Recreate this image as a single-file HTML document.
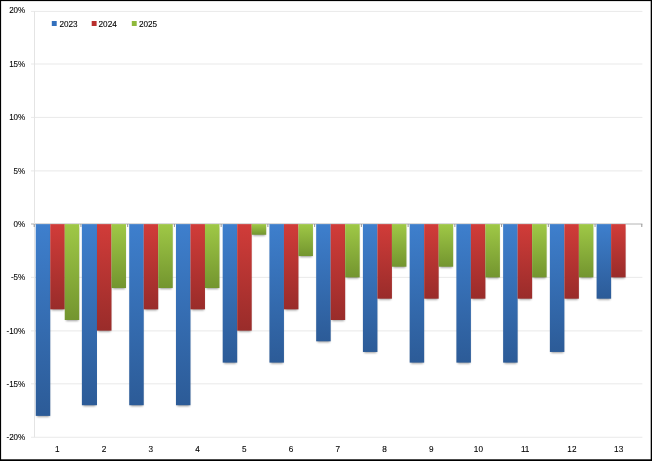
<!DOCTYPE html>
<html lang="en"><head><meta charset="utf-8"><title>Chart</title>
<style>html,body{margin:0;padding:0;background:#fff;}body{width:652px;height:461px;overflow:hidden;}svg{display:block;}text{text-rendering:geometricPrecision;font-family:"Liberation Sans",sans-serif;font-size:8.05px;fill:#000;stroke:#000;stroke-width:0.08px;}</style>
</head><body>
<svg width="652" height="461" viewBox="0 0 652 461">
<defs>
<linearGradient id="gb" x1="0" y1="0" x2="0" y2="1"><stop offset="0" stop-color="#3e7fcd"/><stop offset="1" stop-color="#2c5b97"/></linearGradient>
<linearGradient id="gr" x1="0" y1="0" x2="0" y2="1"><stop offset="0" stop-color="#d13c39"/><stop offset="1" stop-color="#992c2a"/></linearGradient>
<linearGradient id="gg" x1="0" y1="0" x2="0" y2="1"><stop offset="0" stop-color="#9fc846"/><stop offset="1" stop-color="#73952f"/></linearGradient>
<filter id="sh" x="-50%" y="-50%" width="200%" height="200%"><feGaussianBlur stdDeviation="0.9"/></filter>
</defs>
<rect x="0" y="0" width="652" height="461" fill="#fff"/>
<line x1="31" y1="437.25" x2="642.4" y2="437.25" stroke="#e9e9e9" stroke-width="1"/>
<line x1="31" y1="383.85" x2="642.4" y2="383.85" stroke="#e9e9e9" stroke-width="1"/>
<line x1="31" y1="330.90" x2="642.4" y2="330.90" stroke="#e9e9e9" stroke-width="1"/>
<line x1="31" y1="277.35" x2="642.4" y2="277.35" stroke="#e9e9e9" stroke-width="1"/>
<line x1="31" y1="224.00" x2="642.4" y2="224.00" stroke="#b4b4b4" stroke-width="1"/>
<line x1="31" y1="170.90" x2="642.4" y2="170.90" stroke="#e9e9e9" stroke-width="1"/>
<line x1="31" y1="117.40" x2="642.4" y2="117.40" stroke="#e9e9e9" stroke-width="1"/>
<line x1="31" y1="64.00" x2="642.4" y2="64.00" stroke="#e9e9e9" stroke-width="1"/>
<line x1="31" y1="11.40" x2="642.4" y2="11.40" stroke="#e9e9e9" stroke-width="1"/>
<line x1="34.5" y1="11.40" x2="34.5" y2="437.25" stroke="#e4e4e4" stroke-width="1"/>
<line x1="34.20" y1="224.00" x2="34.20" y2="227.00" stroke="#949494" stroke-width="1"/>
<line x1="80.94" y1="224.00" x2="80.94" y2="227.00" stroke="#949494" stroke-width="1"/>
<line x1="127.68" y1="224.00" x2="127.68" y2="227.00" stroke="#949494" stroke-width="1"/>
<line x1="174.42" y1="224.00" x2="174.42" y2="227.00" stroke="#949494" stroke-width="1"/>
<line x1="221.15" y1="224.00" x2="221.15" y2="227.00" stroke="#949494" stroke-width="1"/>
<line x1="267.89" y1="224.00" x2="267.89" y2="227.00" stroke="#949494" stroke-width="1"/>
<line x1="314.63" y1="224.00" x2="314.63" y2="227.00" stroke="#949494" stroke-width="1"/>
<line x1="361.37" y1="224.00" x2="361.37" y2="227.00" stroke="#949494" stroke-width="1"/>
<line x1="408.11" y1="224.00" x2="408.11" y2="227.00" stroke="#949494" stroke-width="1"/>
<line x1="454.85" y1="224.00" x2="454.85" y2="227.00" stroke="#949494" stroke-width="1"/>
<line x1="501.58" y1="224.00" x2="501.58" y2="227.00" stroke="#949494" stroke-width="1"/>
<line x1="548.32" y1="224.00" x2="548.32" y2="227.00" stroke="#949494" stroke-width="1"/>
<line x1="595.06" y1="224.00" x2="595.06" y2="227.00" stroke="#949494" stroke-width="1"/>
<line x1="641.80" y1="224.00" x2="641.80" y2="227.00" stroke="#949494" stroke-width="1"/>
<rect x="37.05" y="227.15" width="12.30" height="189.74" fill="#000" opacity="0.38" filter="url(#sh)"/>
<rect x="35.75" y="224.15" width="14.50" height="191.74" fill="url(#gb)"/>
<rect x="51.55" y="227.15" width="12.30" height="83.19" fill="#000" opacity="0.38" filter="url(#sh)"/>
<rect x="50.25" y="224.15" width="14.50" height="85.19" fill="url(#gr)"/>
<rect x="66.05" y="227.15" width="12.30" height="93.84" fill="#000" opacity="0.38" filter="url(#sh)"/>
<rect x="64.75" y="224.15" width="14.50" height="95.84" fill="url(#gg)"/>
<rect x="83.19" y="227.15" width="12.30" height="179.08" fill="#000" opacity="0.38" filter="url(#sh)"/>
<rect x="81.89" y="224.15" width="15.10" height="181.08" fill="url(#gb)"/>
<rect x="98.29" y="227.15" width="12.30" height="104.50" fill="#000" opacity="0.38" filter="url(#sh)"/>
<rect x="96.99" y="224.15" width="14.50" height="106.50" fill="url(#gr)"/>
<rect x="112.79" y="227.15" width="12.30" height="61.88" fill="#000" opacity="0.38" filter="url(#sh)"/>
<rect x="111.49" y="224.15" width="14.50" height="63.88" fill="url(#gg)"/>
<rect x="130.53" y="227.15" width="12.30" height="179.08" fill="#000" opacity="0.38" filter="url(#sh)"/>
<rect x="129.23" y="224.15" width="14.50" height="181.08" fill="url(#gb)"/>
<rect x="145.03" y="227.15" width="12.30" height="83.19" fill="#000" opacity="0.38" filter="url(#sh)"/>
<rect x="143.73" y="224.15" width="14.50" height="85.19" fill="url(#gr)"/>
<rect x="159.53" y="227.15" width="12.30" height="61.88" fill="#000" opacity="0.38" filter="url(#sh)"/>
<rect x="158.23" y="224.15" width="14.50" height="63.88" fill="url(#gg)"/>
<rect x="177.27" y="227.15" width="12.30" height="179.08" fill="#000" opacity="0.38" filter="url(#sh)"/>
<rect x="175.97" y="224.15" width="14.50" height="181.08" fill="url(#gb)"/>
<rect x="191.77" y="227.15" width="12.30" height="83.19" fill="#000" opacity="0.38" filter="url(#sh)"/>
<rect x="190.47" y="224.15" width="14.50" height="85.19" fill="url(#gr)"/>
<rect x="206.27" y="227.15" width="12.30" height="61.88" fill="#000" opacity="0.38" filter="url(#sh)"/>
<rect x="204.97" y="224.15" width="14.50" height="63.88" fill="url(#gg)"/>
<rect x="224.00" y="227.15" width="12.30" height="136.46" fill="#000" opacity="0.38" filter="url(#sh)"/>
<rect x="222.70" y="224.15" width="14.50" height="138.46" fill="url(#gb)"/>
<rect x="238.50" y="227.15" width="12.30" height="104.50" fill="#000" opacity="0.38" filter="url(#sh)"/>
<rect x="237.20" y="224.15" width="14.50" height="106.50" fill="url(#gr)"/>
<rect x="253.00" y="227.15" width="12.30" height="8.60" fill="#000" opacity="0.38" filter="url(#sh)"/>
<rect x="251.70" y="224.15" width="14.50" height="10.60" fill="url(#gg)"/>
<rect x="270.74" y="227.15" width="12.30" height="136.46" fill="#000" opacity="0.38" filter="url(#sh)"/>
<rect x="269.44" y="224.15" width="14.50" height="138.46" fill="url(#gb)"/>
<rect x="285.24" y="227.15" width="12.30" height="83.19" fill="#000" opacity="0.38" filter="url(#sh)"/>
<rect x="283.94" y="224.15" width="14.50" height="85.19" fill="url(#gr)"/>
<rect x="299.74" y="227.15" width="12.30" height="29.91" fill="#000" opacity="0.38" filter="url(#sh)"/>
<rect x="298.44" y="224.15" width="14.50" height="31.91" fill="url(#gg)"/>
<rect x="317.48" y="227.15" width="12.30" height="115.15" fill="#000" opacity="0.38" filter="url(#sh)"/>
<rect x="316.18" y="224.15" width="14.50" height="117.15" fill="url(#gb)"/>
<rect x="331.98" y="227.15" width="12.30" height="93.84" fill="#000" opacity="0.38" filter="url(#sh)"/>
<rect x="330.68" y="224.15" width="14.50" height="95.84" fill="url(#gr)"/>
<rect x="346.48" y="227.15" width="12.30" height="51.22" fill="#000" opacity="0.38" filter="url(#sh)"/>
<rect x="345.18" y="224.15" width="14.50" height="53.22" fill="url(#gg)"/>
<rect x="364.22" y="227.15" width="12.30" height="125.81" fill="#000" opacity="0.38" filter="url(#sh)"/>
<rect x="362.92" y="224.15" width="14.50" height="127.81" fill="url(#gb)"/>
<rect x="378.72" y="227.15" width="12.30" height="72.53" fill="#000" opacity="0.38" filter="url(#sh)"/>
<rect x="377.42" y="224.15" width="14.50" height="74.53" fill="url(#gr)"/>
<rect x="393.22" y="227.15" width="12.30" height="40.57" fill="#000" opacity="0.38" filter="url(#sh)"/>
<rect x="391.92" y="224.15" width="14.50" height="42.57" fill="url(#gg)"/>
<rect x="410.96" y="227.15" width="12.30" height="136.46" fill="#000" opacity="0.38" filter="url(#sh)"/>
<rect x="409.66" y="224.15" width="14.50" height="138.46" fill="url(#gb)"/>
<rect x="425.46" y="227.15" width="12.30" height="72.53" fill="#000" opacity="0.38" filter="url(#sh)"/>
<rect x="424.16" y="224.15" width="14.50" height="74.53" fill="url(#gr)"/>
<rect x="439.96" y="227.15" width="12.30" height="40.57" fill="#000" opacity="0.38" filter="url(#sh)"/>
<rect x="438.66" y="224.15" width="14.50" height="42.57" fill="url(#gg)"/>
<rect x="457.70" y="227.15" width="12.30" height="136.46" fill="#000" opacity="0.38" filter="url(#sh)"/>
<rect x="456.40" y="224.15" width="14.50" height="138.46" fill="url(#gb)"/>
<rect x="472.20" y="227.15" width="12.30" height="72.53" fill="#000" opacity="0.38" filter="url(#sh)"/>
<rect x="470.90" y="224.15" width="14.50" height="74.53" fill="url(#gr)"/>
<rect x="486.70" y="227.15" width="12.30" height="51.22" fill="#000" opacity="0.38" filter="url(#sh)"/>
<rect x="485.40" y="224.15" width="14.50" height="53.22" fill="url(#gg)"/>
<rect x="504.43" y="227.15" width="12.30" height="136.46" fill="#000" opacity="0.38" filter="url(#sh)"/>
<rect x="503.13" y="224.15" width="14.50" height="138.46" fill="url(#gb)"/>
<rect x="518.93" y="227.15" width="12.30" height="72.53" fill="#000" opacity="0.38" filter="url(#sh)"/>
<rect x="517.63" y="224.15" width="14.50" height="74.53" fill="url(#gr)"/>
<rect x="533.43" y="227.15" width="12.30" height="51.22" fill="#000" opacity="0.38" filter="url(#sh)"/>
<rect x="532.13" y="224.15" width="14.50" height="53.22" fill="url(#gg)"/>
<rect x="551.17" y="227.15" width="12.30" height="125.81" fill="#000" opacity="0.38" filter="url(#sh)"/>
<rect x="549.87" y="224.15" width="14.50" height="127.81" fill="url(#gb)"/>
<rect x="565.67" y="227.15" width="12.30" height="72.53" fill="#000" opacity="0.38" filter="url(#sh)"/>
<rect x="564.37" y="224.15" width="14.50" height="74.53" fill="url(#gr)"/>
<rect x="580.17" y="227.15" width="12.30" height="51.22" fill="#000" opacity="0.38" filter="url(#sh)"/>
<rect x="578.87" y="224.15" width="14.50" height="53.22" fill="url(#gg)"/>
<rect x="597.91" y="227.15" width="12.30" height="72.53" fill="#000" opacity="0.38" filter="url(#sh)"/>
<rect x="596.61" y="224.15" width="14.50" height="74.53" fill="url(#gb)"/>
<rect x="612.41" y="227.15" width="12.30" height="51.22" fill="#000" opacity="0.38" filter="url(#sh)"/>
<rect x="611.11" y="224.15" width="14.50" height="53.22" fill="url(#gr)"/>
<text transform="translate(25.25 439.70) scale(1 1.08)" text-anchor="end">-20%</text>
<text transform="translate(25.25 386.85) scale(1 1.08)" text-anchor="end">-15%</text>
<text transform="translate(25.25 333.90) scale(1 1.08)" text-anchor="end">-10%</text>
<text transform="translate(25.25 280.35) scale(1 1.08)" text-anchor="end">-5%</text>
<text transform="translate(25.25 227.00) scale(1 1.08)" text-anchor="end">0%</text>
<text transform="translate(25.25 173.90) scale(1 1.08)" text-anchor="end">5%</text>
<text transform="translate(25.25 120.40) scale(1 1.08)" text-anchor="end">10%</text>
<text transform="translate(25.25 67.00) scale(1 1.08)" text-anchor="end">15%</text>
<text transform="translate(25.25 13.00) scale(1 1.08)" text-anchor="end">20%</text>
<text transform="translate(57.27 452.1) scale(1.02 1.08)" text-anchor="middle">1</text>
<text transform="translate(104.01 452.1) scale(1.02 1.08)" text-anchor="middle">2</text>
<text transform="translate(150.75 452.1) scale(1.02 1.08)" text-anchor="middle">3</text>
<text transform="translate(197.48 452.1) scale(1.02 1.08)" text-anchor="middle">4</text>
<text transform="translate(244.22 452.1) scale(1.02 1.08)" text-anchor="middle">5</text>
<text transform="translate(290.96 452.1) scale(1.02 1.08)" text-anchor="middle">6</text>
<text transform="translate(337.70 452.1) scale(1.02 1.08)" text-anchor="middle">7</text>
<text transform="translate(384.44 452.1) scale(1.02 1.08)" text-anchor="middle">8</text>
<text transform="translate(431.18 452.1) scale(1.02 1.08)" text-anchor="middle">9</text>
<text transform="translate(478.42 452.1) scale(1.02 1.08)" text-anchor="middle">10</text>
<text transform="translate(525.15 452.1) scale(1.02 1.08)" text-anchor="middle">11</text>
<text transform="translate(571.89 452.1) scale(1.02 1.08)" text-anchor="middle">12</text>
<text transform="translate(618.63 452.1) scale(1.02 1.08)" text-anchor="middle">13</text>
<rect x="51.8" y="21" width="4.9" height="5" fill="#3370bd"/>
<text transform="translate(59.4 26.8) scale(1.02 1.08)">2023</text>
<rect x="91.7" y="21" width="4.9" height="5" fill="#b92f2d"/>
<text transform="translate(98.5 26.8) scale(1.02 1.08)">2024</text>
<rect x="131.8" y="21" width="4.9" height="5" fill="#8fb93c"/>
<text transform="translate(138.9 26.8) scale(1.02 1.08)">2025</text>
<rect x="0" y="0" width="652" height="1.1" fill="#000"/>
<rect x="0" y="0" width="1.1" height="461" fill="#000"/>
<rect x="650.7" y="0" width="1.3" height="461" fill="#000"/>
<rect x="0" y="459.3" width="652" height="1.7" fill="#000"/>
</svg>
</body></html>
